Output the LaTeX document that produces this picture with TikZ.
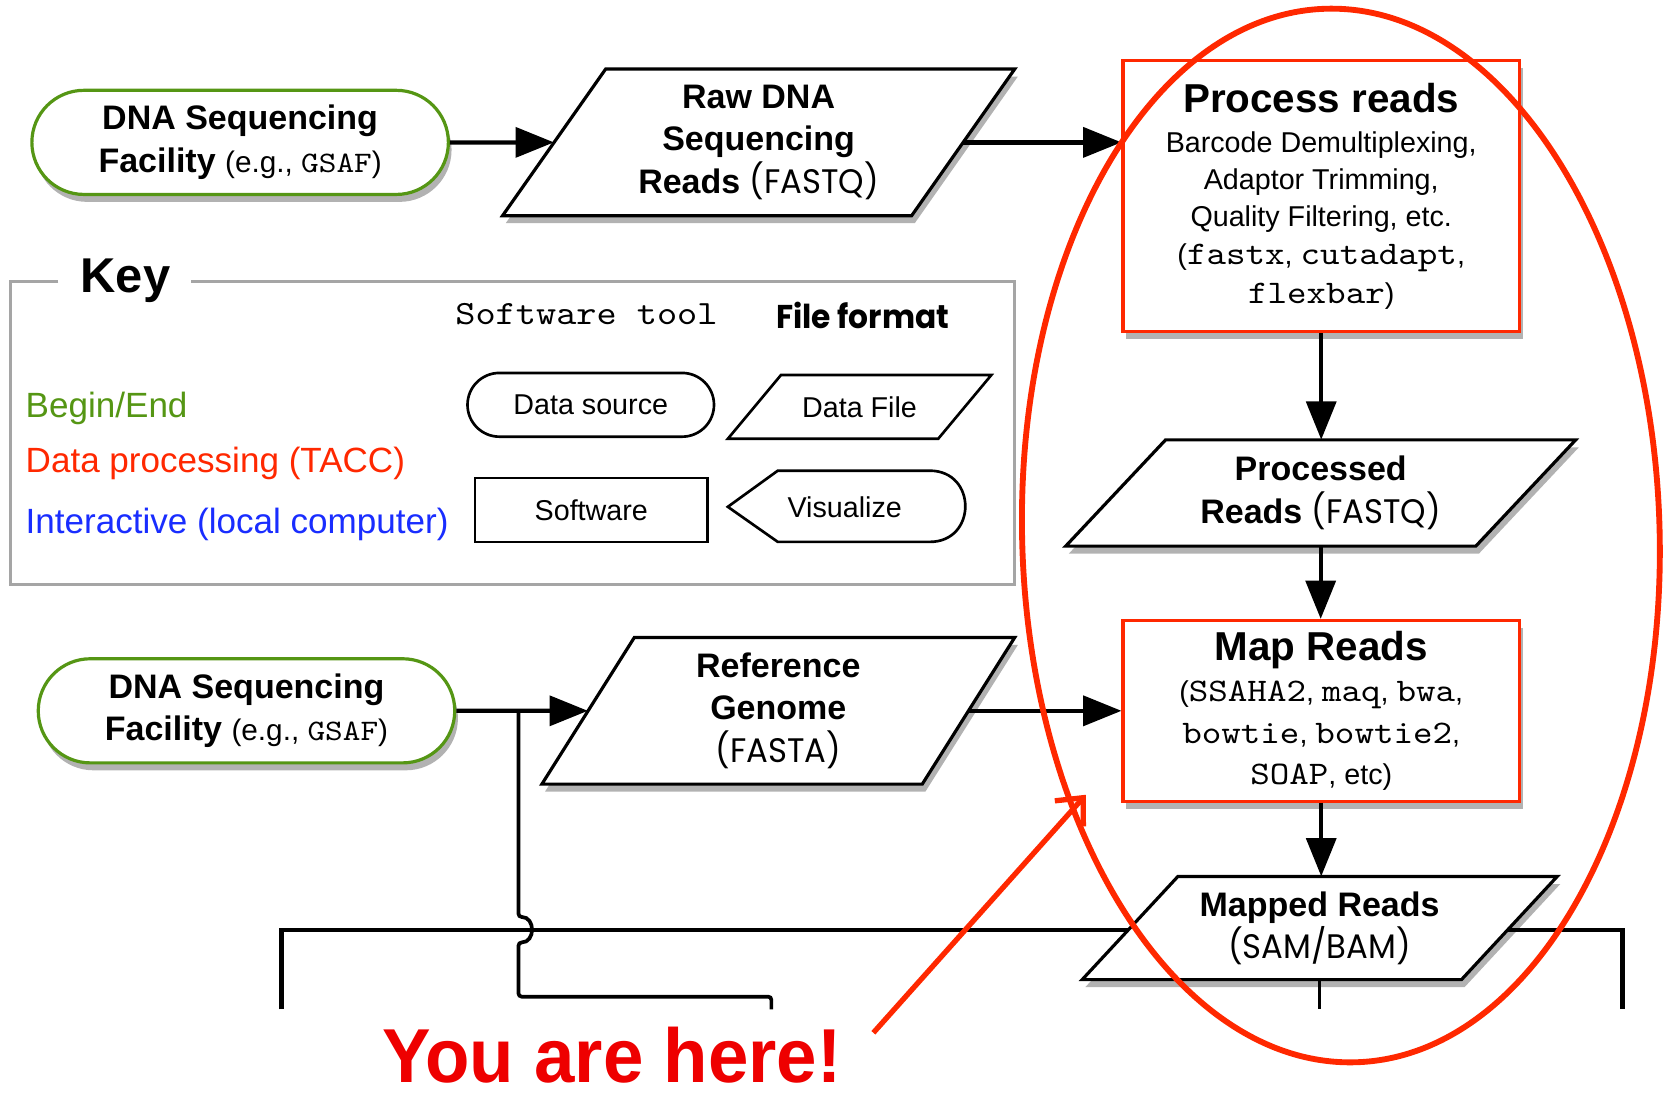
\documentclass[tikz,border=0pt]{standalone}
\usepackage{fontspec}
\setmainfont{Liberation Sans}
\setmonofont{lmmono10-regular.otf}[FakeStretch=1.13]
\newfontfamily\geofont{Poppins}[FakeStretch=0.95]
\usetikzlibrary{shapes.geometric,shapes.misc,arrows.meta,shadows,calc}
\definecolor{startgreen}{RGB}{85,150,20}
\definecolor{procred}{RGB}{255,40,0}
\definecolor{interblue}{RGB}{25,45,255}
\definecolor{keygray}{RGB}{165,165,165}
\definecolor{herered}{RGB}{238,0,0}
\newcommand{\fs}[2]{\fontsize{#1}{#2}\selectfont}
% parallelogram outline + named text node
\newcommand{\pgram}[7]{%
  \draw[#1] ({#3-#5/2-#7/2},{#4+#6/2}) -- ({#3-#5/2+#7/2},{#4-#6/2}) -- ({#3+#5/2+#7/2},{#4-#6/2}) -- ({#3+#5/2-#7/2},{#4+#6/2}) -- cycle;
  \node[#1 text, minimum width=#5pt, minimum height=#6pt] (#2) at (#3,#4)}
\tikzset{
  shad/.style={drop shadow={shadow xshift=3pt, shadow yshift=-7pt, opacity=0.3, fill=black}},
  startnode/.style={rounded rectangle, draw=startgreen, line width=3pt, fill=white, shad,
    minimum width=392pt, minimum height=98pt, inner sep=0pt, align=center, font=\fs{32}{40}},
  procnode/.style={rectangle, draw=procred, line width=3pt, fill=white, shad,
    inner sep=0pt, align=center, font=\fs{27}{35}},
  file/.style={draw=black, line width=3pt, fill=white, shad, line join=miter},
  file text/.style={inner sep=0pt, align=center, font=\fs{32}{40}\bfseries},
  keyfile/.style={draw=black, line width=2.5pt, fill=white},
  keyfile text/.style={inner sep=0pt, align=center, font=\fs{27}{32}},
  keyshape/.style={draw=black, line width=2.5pt, fill=white, inner sep=0pt, font=\fs{27}{32}},
  flow/.style={line width=4pt, -{Triangle[length=36pt,width=28pt]}},
  wire/.style={line width=4pt},
  keytext/.style={anchor=west, inner sep=0pt, font=\fs{33}{38}},
}
\begin{document}
\begin{tikzpicture}[x=1pt,y=-1pt]
\useasboundingbox (0,0) rectangle (1568,1031);
\fill[white] (0,0) rectangle (1568,1031);

% ---- bus and branch lines (behind)
\coordinate (busL) at (265,950);
\coordinate (busLT) at (265,875);
\coordinate (busRT) at (1527,875);
\coordinate (busR) at (1527,950);
\draw[wire] (busL) -- (busLT) -- (busRT) -- (busR);
\coordinate (split) at (488,669);
\coordinate (jumpA) at (488,863);
\coordinate (jumpB) at (488,887);
\coordinate (corner) at (488,938);
\coordinate (corner2) at (726,938);
\coordinate (drop2) at (726,950);
\draw[line width=3.5pt, rounded corners=3pt] (split) -- (jumpA) .. controls (504,863) and (504,887) .. (jumpB) -- (corner) -- (corner2) -- (drop2);

% ---- key
\draw[keygray, line width=2.5pt] (55,265) -- (10,265) -- (10,550) -- (955,550) -- (955,265) -- (180,265);
\node[font=\fs{46}{50}\bfseries, inner sep=0pt] (keytitle) at (118,264) {Key};
\node[font=\fs{32}{36}\ttfamily, inner sep=0pt] (swtool) at (552,296) {Software tool};
\node[font=\fs{31}{36}\geofont\bfseries, inner sep=0pt] (ffmt) at (812,297) {File format};
\node[keytext, text=startgreen] (kbegin) at (24,384) {Begin/End};
\node[keytext, text=procred] (kproc) at (24,436) {Data processing (TACC)};
\node[keytext, text=interblue] (kinter) at (24,494) {Interactive (local computer)};
\node[keyshape, rounded rectangle, minimum width=232pt, minimum height=60pt] (ksrc) at (556,381) {Data source};
\pgram{keyfile}{kfile}{809}{383}{198}{60}{50} {Data File};
\node[keyshape, rectangle, minimum width=219pt, minimum height=60pt] (ksoft) at (556.5,480) {Software};
\draw[keyfile] (685,477) -- (732,443) -- (875,443) .. controls (919.7,443) and (919.7,510) .. (875,510) -- (732,510) -- cycle;
\node[keyfile text] (kvis) at (795,477) {Visualize};

% ---- top row
\node[startnode] (s1) at (226,134) {\bfseries DNA Sequencing\\{\bfseries Facility} {\fs{28}{40}(e.g., \texttt{GSAF})}};
\pgram{file}{raw}{714}{134}{385}{138}{97} {Raw DNA\\Sequencing\\Reads {\mdseries\geofont (FASTQ)}};
\node[procnode, minimum width=373pt, minimum height=255pt] (proc) at (1243.5,184.5)
  {{\fs{38}{40}\bfseries Process reads}\\[3pt]Barcode Demultiplexing,\\Adaptor Trimming,\\Quality Filtering, etc.\\({\fs{31}{35}\ttfamily fastx}, {\fs{31}{35}\ttfamily cutadapt},\\[2pt]{\fs{31}{35}\ttfamily flexbar})};
\pgram{file}{processed}{1243}{464}{386}{100}{94} {Processed\\Reads {\mdseries\geofont (FASTQ)}};

% ---- second row
\node[startnode] (s2) at (232,669) {\bfseries DNA Sequencing\\{\bfseries Facility} {\fs{28}{40}(e.g., \texttt{GSAF})}};
\pgram{file}{ref}{732.5}{669}{358}{138}{87} {Reference\\Genome\\{\mdseries\geofont (FASTA)}};
\node[procnode, minimum width=373pt, minimum height=170pt, font=\fs{27}{39}] (map) at (1243.5,669)
  {{\fs{38}{40}\bfseries Map Reads}\\({\fs{31}{39}\ttfamily SSAHA2}, {\fs{31}{39}\ttfamily maq}, {\fs{31}{39}\ttfamily bwa},\\{\fs{31}{39}\ttfamily bowtie}, {\fs{31}{39}\ttfamily bowtie2},\\{\fs{31}{39}\ttfamily SOAP}, etc)};
\pgram{file}{mapped}{1242}{873.5}{357}{97}{90} {Mapped Reads\\{\mdseries\geofont (SAM/BAM)}};

% ---- connectors
\draw[flow] (s1) -- (raw);
\draw[flow] (raw.east) -- (raw.east -| proc.west);
\draw[flow] (proc.south) -- (proc.south |- processed.north);
\draw[flow] (processed.south) -- (processed.south |- map.north);
\draw[flow] (map.south) -- (map.south |- mapped.north);
\draw[flow] (s2) -- (ref);
\draw[flow] (ref.east) -- (ref.east -| map.west);
\coordinate (mdrop) at (1242,950);
\draw[line width=3pt] (mapped.south) -- (mdrop);

% ---- annotation
\node[draw=procred, line width=5.5pt, ellipse, minimum width=600pt, minimum height=992pt, inner sep=0pt, rotate=1.6] (focus) at (1262,504) {};
\coordinate (arrtail) at (822,972);
\coordinate (arrtip) at (1022,748);
\draw[procred, line width=5pt, -{Straight Barb[length=20pt,width=36pt]}] (arrtail) -- (arrtip);
\node[text=herered, font=\fs{72}{78}\bfseries, inner sep=0pt] (here) at (576,993) {\scalebox{0.95}[1]{You are here!}};
\end{tikzpicture}
\end{document}
